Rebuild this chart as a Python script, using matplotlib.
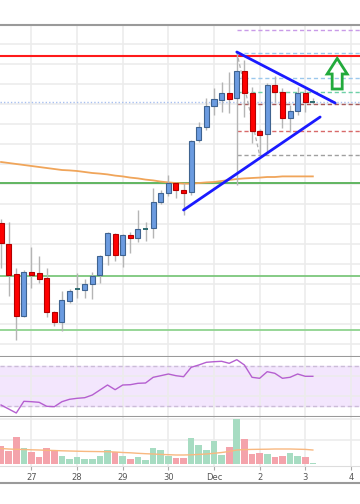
import matplotlib
matplotlib.use("Agg")
import matplotlib.pyplot as plt
import matplotlib.dates as mdates
from matplotlib.patches import Polygon
from matplotlib.lines import Line2D
import numpy as np
import pandas as pd

# 4h candles, Nov 26 08:00 -> Dec 3 04:00
times = pd.date_range("2018-11-26 08:00", periods=42, freq="4h")
opens = [3902.5, 3850, 3775, 3670, 3780, 3777.5, 3765, 3680, 3655, 3707.5,
         3736, 3735, 3750, 3772.5, 3822.5, 3875, 3822.5, 3872.5, 3865, 3886,
         3890, 3955, 3977.5, 4002.5, 3985, 3980, 4110, 4142.5, 4195, 4210,
         4227.5, 4215, 4282.5, 4227.5, 4132.5, 4125, 4247.5, 4230, 4165, 4182.5,
         4227.5, 4204]
closes = [3852.5, 3772.5, 3670, 3780, 3772.5, 3762.5, 3680, 3655, 3710, 3732.5,
          3739, 3750, 3770, 3820, 3877.5, 3822.5, 3872.5, 3866, 3887.5, 3889,
          3955, 3977.5, 4002.5, 3985, 3977.5, 4107.5, 4142.5, 4195, 4212.5, 4227.5,
          4212.5, 4282.5, 4227.5, 4132.5, 4122.5, 4247.5, 4230, 4165, 4182.5, 4227.5,
          4205, 4206]
highs = [3912.5, 3905, 3790, 3785, 3842.5, 3820, 3790, 3682.5, 3732.5, 3737.5,
         3777.5, 3762.5, 3780, 3822.5, 3880, 3877.5, 3875, 3880, 3935, 3905,
         3990, 3985, 4022.5, 4005, 4002.5, 4110, 4155, 4215, 4240, 4255,
         4280, 4330, 4310, 4242.5, 4137.5, 4252.5, 4270, 4240, 4197.5, 4242.5,
         4240, 4215]
lows = [3790, 3720, 3610, 3667.5, 3740, 3752.5, 3667.5, 3645, 3632.5, 3702.5,
        3715, 3715, 3712.5, 3752.5, 3797.5, 3807.5, 3792.5, 3827.5, 3855, 3857.5,
        3865, 3950, 3970, 3965, 3922.5, 3972.5, 4105, 4135, 4172.5, 4180,
        4177.5, 3997.5, 4167.5, 4102.5, 4072.5, 4080, 4205, 4140, 4130, 4172.5,
        4180, 4200]
ma = [4055, 4052.5, 4050, 4047.5, 4045, 4042.5, 4040, 4037.5, 4035, 4034,
      4032.5, 4030, 4027.5, 4026, 4024, 4021, 4019, 4016, 4014, 4011,
      4009, 4006, 4004, 4002.5, 4001, 4001, 4002.5, 4004, 4005, 4007.5,
      4010, 4012.5, 4014, 4015, 4016, 4017.5, 4017.5, 4019, 4019, 4019,
      4019, 4019]
rsi = [31, 27, 23, 34.7, 34.3, 33.7, 29.7, 29.3, 34.3, 36.7,
       37.7, 38.3, 41, 46, 51, 46.3, 51, 51.3, 52.7, 53,
       58.7, 60.3, 62, 60.3, 59.3, 68.7, 71, 73.7, 74.3, 74.7,
       72.7, 76.3, 71, 58.7, 57.7, 64.3, 62.7, 57.7, 58.7, 62,
       59.7, 59.7]
volume = [1800, 1330, 2730, 1570, 1200, 670, 1630, 1300, 800, 470,
          700, 500, 530, 800, 1370, 1200, 800, 470, 700, 400,
          1570, 1400, 800, 630, 570, 2570, 1870, 1400, 2330, 870,
          1730, 4500, 2500, 1000, 1100, 970, 700, 830, 1070, 800,
          700, 70]
vol_ma = [1550, 1500, 1470, 1450, 1420, 1400, 1370, 1350, 1320, 1300,
          1280, 1260, 1250, 1240, 1230, 1200, 1150, 1120, 1070, 1030,
          1000, 960, 930, 900, 900, 920, 960, 1000, 1070, 1150,
          1250, 1400, 1440, 1460, 1470, 1480, 1500, 1500, 1500, 1480,
          1460, 1400]

day_labels = ["27", "28", "29", "30", "Dec", "2", "3", "4"]
days = pd.date_range("2018-11-27", periods=8, freq="D")

# drawn levels / tools
resistance = 4320
supports = [4002.5, 3770, 3635]
support_colors = ["#55b055", "#7cc77c", "#8fd38f"]
last_price = 4205
fib_start = pd.Timestamp("2018-12-01 12:00")
fib_levels = [4385, 4327.5, 4265, 4230, 4200, 4132.5, 4072.5]
fib_colors = ["#c99be8", "#9cc8ec", "#9cc8ec", "#6fd0a8", "#a85a5a", "#d86a6a", "#a0a0a0"]
fib_diag = [(pd.Timestamp("2018-12-01 12:00"), 4330), (pd.Timestamp("2018-12-02 00:00"), 4072.5)]
upper_tl = [(pd.Timestamp("2018-12-01 12:00"), 4330), (pd.Timestamp("2018-12-03 15:45"), 4202.5)]
lower_tl = [(pd.Timestamp("2018-11-30 08:00"), 3935), (pd.Timestamp("2018-12-03 07:50"), 4167.5)]

x = mdates.date2num(times.to_pydatetime())
xd = mdates.date2num(days.to_pydatetime())
base = xd[0]
xlim = (base - 0.69, base + 7.20)
up = [c >= o for o, c in zip(opens, closes)]

fig = plt.figure(figsize=(3.6, 5.04), dpi=100)
H = 504.0
ax = fig.add_axes([0, 1 - 357 / H, 1, 332 / H])
ax_rsi = fig.add_axes([0, 1 - 417 / H, 1, 60 / H])
ax_vol = fig.add_axes([0, 1 - 466 / H, 1, 49 / H])

border = "#9a9a9a"
for a in (ax, ax_rsi, ax_vol):
    a.set_xlim(*xlim)
    a.set_xticks(xd)
    a.grid(True, color="#ececec", lw=1.2)
    a.set_axisbelow(True)
    for s in ("left", "right", "top", "bottom"):
        a.spines[s].set_visible(False)
    a.set_yticklabels([])
    a.tick_params(axis="y", length=0)

# main price panel
ax.set_ylim(3567.5, 4397.5)
ax.set_yticks(np.arange(3600, 4400, 50))
ax.tick_params(axis="x", length=0, labelbottom=False)
ax.spines["top"].set_visible(True)
ax.spines["bottom"].set_visible(True)
ax.spines["top"].set_color(border)
ax.spines["bottom"].set_color(border)
ax.spines["top"].set_linewidth(1.5)
ax.spines["bottom"].set_linewidth(1.5)

ax.axhline(resistance, color="#ff1a1a", lw=1.5, zorder=2)
for lvl, col in zip(supports, support_colors):
    ax.axhline(lvl, color=col, lw=1.3, zorder=2)
ax.axhline(last_price, color="#a8c0f0", lw=1, ls=(0, (1, 1.5)), zorder=2)
fx = mdates.date2num(fib_start)
for lvl, col in zip(fib_levels, fib_colors):
    ax.hlines(lvl, fx, xlim[1], color=col, lw=1, linestyles=(0, (3, 2)), zorder=2)
ax.plot(mdates.date2num([p[0] for p in fib_diag]), [p[1] for p in fib_diag],
        color="#b0b0b0", lw=0.9, ls=(0, (3, 2)), zorder=2)

ax.plot(x, ma, color="#f0a55a", lw=1.3, zorder=3)

w = 0.11
ax.vlines(x, lows, highs, color="#b5b5b5", lw=1, zorder=4)
for xi, o, c, u in zip(x, opens, closes, up):
    fc = "#6b9be0" if u else "#ff0000"
    ec = "#3f6390" if u else "#b30000"
    h = c - o
    if abs(h) < 4:
        ax.hlines((o + c) / 2, xi - w / 2, xi + w / 2, color="#2f6b70", lw=1.4, zorder=5)
    else:
        ax.bar(xi, h, bottom=o, width=w, color=fc, edgecolor=ec, lw=0.8, zorder=5)

for tl in (upper_tl, lower_tl):
    ax.plot(mdates.date2num([p[0] for p in tl]), [p[1] for p in tl],
            color="#1a1aff", lw=2, zorder=6, solid_capstyle="round")

# hollow green arrow
ac = base + 6.70
arrow = [(ac, 4314), (ac + 0.22, 4275), (ac + 0.11, 4275), (ac + 0.11, 4237.5),
         (ac - 0.11, 4237.5), (ac - 0.11, 4275), (ac - 0.22, 4275)]
ax.add_patch(Polygon(arrow, closed=True, fill=False, edgecolor="#22aa3c", lw=2, zorder=7))

# RSI panel
ax_rsi.set_ylim(19, 79)
ax_rsi.set_yticks([40, 60])
ax_rsi.tick_params(axis="x", length=0, labelbottom=False)
ax_rsi.axhspan(30, 70, color="#f3e6fd", zorder=0)
for lvl in (30, 70):
    ax_rsi.axhline(lvl, color="#cbbcd8", lw=1, ls=(0, (3, 2)), zorder=1)
ax_rsi.plot(x, rsi, color="#b55fd0", lw=1, zorder=3)
ax_rsi.spines["bottom"].set_visible(True)
ax_rsi.spines["bottom"].set_color(border)
ax_rsi.spines["bottom"].set_linewidth(1.5)

# volume panel
ax_vol.set_ylim(-200, 4700)
ax_vol.set_yticks([2400, 4500])
vcol = ["#a7dcc2" if u else "#f4a3ab" for u in up]
ax_vol.bar(x, volume, width=0.145, color=vcol, zorder=2)
ax_vol.plot(x, vol_ma, color="#f8b880", lw=1, zorder=3)
ax_vol.spines["bottom"].set_visible(True)
ax_vol.spines["bottom"].set_color("#dddddd")
ax_vol.set_xticklabels(day_labels)
ax_vol.tick_params(axis="x", length=3, width=0.8, color="#aaaaaa", labelsize=6,
                   labelcolor="#555555", pad=2)

fig.add_artist(Line2D([0, 1], [1 - 483 / H] * 2, color=border, lw=1.5))

fig.savefig("out.png", dpi=100)
